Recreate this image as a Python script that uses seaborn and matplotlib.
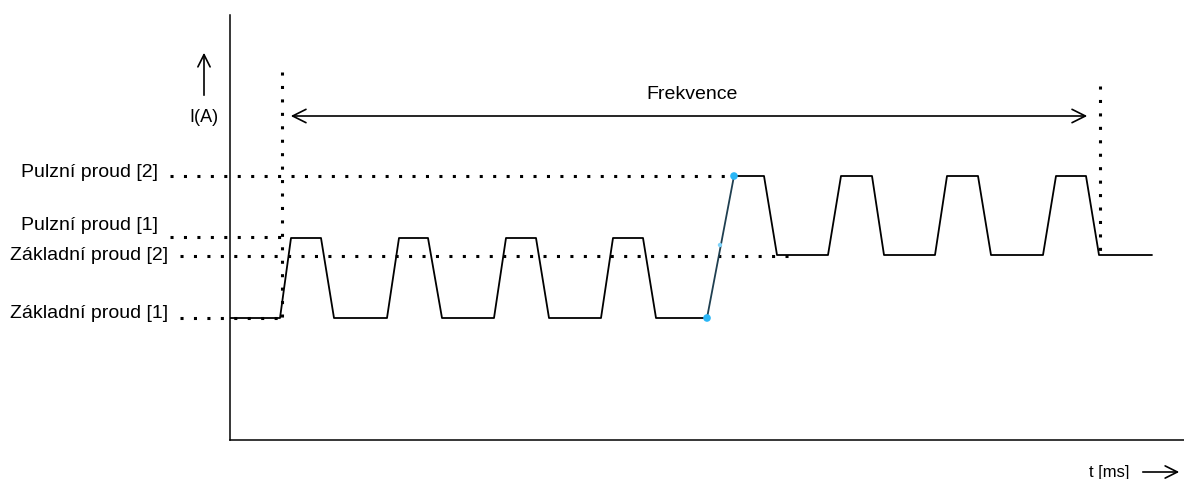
import numpy as np
import pandas as pd
import matplotlib
matplotlib.use("Agg")
import matplotlib.pyplot as plt
import seaborn as sns

# waveform vertices (time, current), arbitrary units
pulse1_t = [0, 50, 61, 91, 104, 157, 169, 198, 212, 264, 276, 306, 319, 371, 383, 413, 426, 477]
pulse1_i = [122, 122, 202, 202, 122, 122, 202, 202, 122, 122, 202, 202, 122, 122, 202, 202, 122, 122]
ramp_t = [477, 504]
ramp_i = [122, 264]
pulse2_t = [504, 534, 547, 598, 611, 642, 654, 705, 717, 748, 761, 813, 826, 856, 869, 922]
pulse2_i = [264, 264, 185, 185, 264, 264, 185, 185, 264, 264, 185, 185, 264, 264, 185, 185]
marker_t = [477, 504]
marker_i = [122, 264]
faint_t = [490]
faint_i = [195]

levels = ["Pulzní proud [2]", "Pulzní proud [1]", "Základní proud [2]", "Základní proud [1]"]
level_i = [264, 203, 184, 122]
level_label_y = [268, 215, 184, 127]
level_end_t = [503, 61, 560, 50]

sns.set_theme(style="white")
plt.rcParams["font.family"] = ["Liberation Sans", "DejaVu Sans"]
plt.rcParams["text.color"] = "black"

fig = plt.figure(figsize=(11.84, 4.79), dpi=100)
ax = fig.add_axes([230 / 1184, 39 / 479, 954 / 1184, 425 / 479])
ax.set_xlim(0, 954)
ax.set_ylim(0, 425)
ax.set_xticks([])
ax.set_yticks([])
for s in ["top", "right"]:
    ax.spines[s].set_visible(False)
for s in ["left", "bottom"]:
    ax.spines[s].set_color("black")
    ax.spines[s].set_linewidth(1.1)

dot = (0, (1, 3.4))

# dotted level lines and their labels
for name, yi, ly, te in zip(levels, level_i, level_label_y, level_end_t):
    start = -60 if name.startswith("Pulzní") else -50
    ax.plot([start, te], [yi, yi], color="black", lw=2.2, linestyle=dot, clip_on=False)
    xr = -72 if name.startswith("Pulzní") else -62
    ax.text(xr, ly, name, ha="right", va="center", fontsize=14, clip_on=False)

# frequency markers
ax.plot([52, 52], [368, 122], color="black", lw=2.2, linestyle=dot)
ax.plot([870, 870], [354, 185], color="black", lw=2.2, linestyle=dot)
ax.annotate("", xy=(58, 324), xytext=(860, 324),
            arrowprops=dict(arrowstyle="<->", color="black", lw=1.2, mutation_scale=24))
ax.text(462, 346, "Frekvence", ha="center", va="center", fontsize=14)

# waveform
wave = pd.DataFrame({"t": pulse1_t, "i": pulse1_i})
sns.lineplot(data=wave, x="t", y="i", sort=False, estimator=None, color="black", lw=1.3, ax=ax)
wave2 = pd.DataFrame({"t": pulse2_t, "i": pulse2_i})
sns.lineplot(data=wave2, x="t", y="i", sort=False, estimator=None, color="black", lw=1.3, ax=ax)
ramp = pd.DataFrame({"t": ramp_t, "i": ramp_i})
sns.lineplot(data=ramp, x="t", y="i", sort=False, estimator=None, color="#1f3f50", lw=1.3, ax=ax)
sns.scatterplot(x=marker_t, y=marker_i, color="#29b6f6", s=30, edgecolor="none", zorder=5, ax=ax)
sns.scatterplot(x=faint_t, y=faint_i, color="#7fd3fa", s=10, edgecolor="none", zorder=5, ax=ax)
ax.set_xlabel("")
ax.set_ylabel("")

# axis captions
ax.annotate("", xy=(-26, 390), xytext=(-26, 342),
            arrowprops=dict(arrowstyle="->", color="black", lw=1.2, mutation_scale=22),
            annotation_clip=False)
ax.text(-26, 323, "I(A)", ha="center", va="center", fontsize=13, clip_on=False)
ax.text(879, -32, "t [ms]", ha="center", va="center", fontsize=12, clip_on=False)
ax.annotate("", xy=(952, -32), xytext=(910, -32),
            arrowprops=dict(arrowstyle="->", color="black", lw=1.2, mutation_scale=22),
            annotation_clip=False)

fig.savefig("out.png", dpi=100)
